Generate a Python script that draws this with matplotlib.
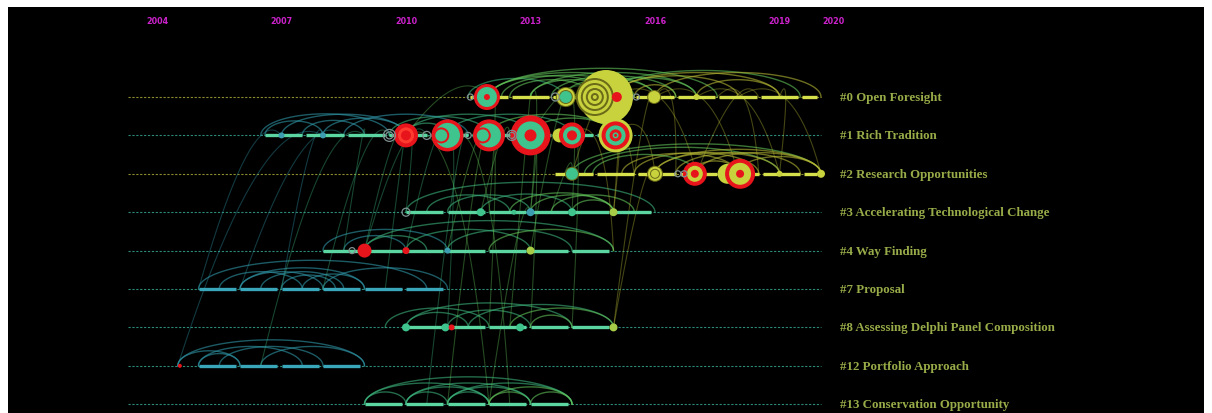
import matplotlib.pyplot as plt
import numpy as np

# CiteSpace-style timeline view of co-citation clusters

# ---- data ----
tick_years = ['2004', '2007', '2010', '2013', '2016', '2019', '2020']
tick_pos = [2004, 2007, 2010, 2013, 2016, 2019, 2020.3]

cluster_labels = ['#0 Open Foresight', '#1 Rich Tradition', '#2 Research Opportunities',
                  '#3 Accelerating Technological Change', '#4 Way Finding', '#7 Proposal',
                  '#8 Assessing Delphi Panel Composition', '#12 Portfolio Approach',
                  '#13 Conservation Opportunity']
row_start = [2011.55, 2006.6, 2013.6, 2010.0, 2008.0, 2005.0, 2010.0, 2005.0, 2009.0]
row_end = [2020.0, 2015.3, 2020.0, 2016.0, 2015.0, 2011.0, 2015.0, 2009.0, 2014.0]
row_tone = ['yellow', 'green', 'yellow', 'green', 'green', 'blue', 'green', 'blue', 'green']

# nodes: (row, year, [(ring radius, colour key), ...] outer -> inner)
nodes = [
    (0, 2011.55, [(3, 'ring')]),
    (0, 2011.95, [(13, 'R'), (10, 'G'), (3, 'R')]),
    (0, 2013.6, [(4, 'ring')]),
    (0, 2013.85, [(10, 'O'), (9, 'Y'), (7, 'O'), (6, 'G'), (3, 'G')]),
    (0, 2014.82, [(27, 'Y')]),
    (0, 2014.55, [(19, 'O'), (17, 'Y'), (14, 'O'), (12, 'Y'), (9, 'O'), (7, 'Y'), (4, 'O'), (2, 'Y')]),
    (0, 2015.08, [(5, 'R')]),
    (0, 2015.55, [(3, 'ring')]),
    (0, 2015.98, [(7, 'O'), (6, 'Y')]),
    (0, 2017.0, [(3, 'Y')]),
    (1, 2007.0, [(3, 'B')]),
    (1, 2008.0, [(3, 'B')]),
    (1, 2009.6, [(6, 'ring'), (3.5, 'ring')]),
    (1, 2010.0, [(12, 'R'), (8, 'R2'), (5, 'R')]),
    (1, 2010.5, [(4, 'ring')]),
    (1, 2011.0, [(16, 'R'), (12.5, 'G')]),
    (1, 2010.85, [(8, 'R'), (6, 'G')]),
    (1, 2011.5, [(3, 'ring')]),
    (1, 2012.0, [(16, 'R'), (12, 'G')]),
    (1, 2011.85, [(8, 'R'), (6, 'G')]),
    (1, 2012.55, [(5, 'ring'), (3, 'ring')]),
    (1, 2013.0, [(20, 'R'), (14, 'G'), (6, 'R')]),
    (1, 2013.7, [(7, 'Y')]),
    (1, 2014.0, [(13, 'R'), (9, 'G'), (5, 'R'), (2, 'R')]),
    (1, 2015.05, [(17, 'Y'), (14, 'R'), (10, 'G'), (6, 'R'), (3, 'G'), (1.5, 'R')]),
    (2, 2014.0, [(7, 'O'), (6, 'G')]),
    (2, 2016.0, [(8, 'O'), (7, 'Y'), (5, 'O'), (4, 'Y')]),
    (2, 2016.55, [(3, 'ring')]),
    (2, 2016.7, [(3, 'ring')]),
    (2, 2016.96, [(12, 'R'), (8, 'Y'), (4, 'R')]),
    (2, 2017.75, [(10, 'Y')]),
    (2, 2018.05, [(15, 'R'), (11, 'Y'), (4, 'R')]),
    (2, 2019.0, [(3, 'Y')]),
    (2, 2020.0, [(4, 'Y')]),
    (3, 2010.0, [(4, 'ring')]),
    (3, 2011.8, [(4, 'G')]),
    (3, 2012.6, [(2.5, 'G')]),
    (3, 2013.0, [(4, 'B')]),
    (3, 2014.0, [(4, 'G')]),
    (3, 2015.0, [(4, 'L')]),
    (4, 2008.7, [(3, 'ring')]),
    (4, 2009.0, [(7, 'R')]),
    (4, 2010.0, [(3.5, 'R')]),
    (4, 2011.0, [(3, 'B')]),
    (4, 2013.0, [(4, 'L')]),
    (6, 2010.0, [(4, 'G')]),
    (6, 2010.95, [(4, 'G')]),
    (6, 2011.1, [(3, 'R')]),
    (6, 2012.75, [(4, 'G')]),
    (6, 2015.0, [(4, 'L')]),
    (7, 2004.55, [(2, 'R')]),
]

# arcs inside a cluster: (row, year from, year to)
arcs = [
    (0, 2011.5, 2013.8), (0, 2012.0, 2015.0), (0, 2013.0, 2015.0), (0, 2012.0, 2016.0),
    (0, 2012.5, 2014.5), (0, 2013.0, 2017.0), (0, 2013.8, 2016.0), (0, 2012.0, 2017.5),
    (0, 2014.5, 2017.0), (0, 2015.0, 2018.0), (0, 2015.0, 2019.0), (0, 2014.8, 2019.5),
    (0, 2016.0, 2020.0), (0, 2017.0, 2019.0), (0, 2015.5, 2016.5), (0, 2012.3, 2015.5),
    (0, 2013.5, 2016.5),
    (1, 2006.5, 2009.6), (1, 2007.0, 2010.0), (1, 2008.0, 2010.0), (1, 2006.6, 2008.0),
    (1, 2007.5, 2009.0), (1, 2009.6, 2012.0), (1, 2010.0, 2013.0), (1, 2011.0, 2014.0),
    (1, 2012.0, 2015.0), (1, 2013.0, 2015.0), (1, 2010.0, 2011.0), (1, 2008.5, 2011.5),
    (2, 2014.0, 2020.0), (2, 2014.3, 2019.0), (2, 2015.2, 2018.0), (2, 2016.0, 2019.0),
    (2, 2016.0, 2020.0), (2, 2017.0, 2020.0), (2, 2015.5, 2018.5), (2, 2016.5, 2019.5),
    (2, 2018.0, 2020.0), (2, 2016.9, 2018.0), (2, 2014.5, 2017.0),
    (3, 2010.0, 2016.0), (3, 2011.0, 2013.0), (3, 2011.8, 2014.0), (3, 2012.5, 2015.0),
    (3, 2013.0, 2015.0), (3, 2010.5, 2012.5), (3, 2013.5, 2015.5), (3, 2014.0, 2015.0),
    (4, 2008.0, 2011.0), (4, 2008.5, 2010.0), (4, 2009.0, 2010.5), (4, 2009.0, 2015.0),
    (4, 2010.0, 2013.0), (4, 2011.0, 2014.0), (4, 2012.0, 2015.0),
    (5, 2005.0, 2010.5), (5, 2006.0, 2009.0), (5, 2006.5, 2008.5), (5, 2007.0, 2008.3),
    (5, 2006.0, 2008.0), (5, 2007.5, 2009.0), (5, 2005.5, 2007.5), (5, 2008.0, 2011.0),
    (6, 2009.5, 2012.0), (6, 2010.0, 2014.0), (6, 2011.0, 2013.0), (6, 2011.5, 2015.0),
    (6, 2012.5, 2015.0), (6, 2013.0, 2014.0), (6, 2010.0, 2011.5),
    (7, 2004.5, 2009.0), (7, 2005.0, 2007.5), (7, 2005.5, 2008.0), (7, 2005.0, 2006.0),
    (7, 2006.5, 2009.0), (7, 2004.5, 2006.0),
    (8, 2009.0, 2014.0), (8, 2009.0, 2012.0), (8, 2010.0, 2013.0), (8, 2011.0, 2014.0),
    (8, 2009.0, 2010.0), (8, 2010.0, 2011.0), (8, 2011.0, 2012.0), (8, 2012.0, 2013.0),
    (8, 2013.0, 2014.0), (8, 2010.0, 2012.0), (8, 2011.0, 2013.0), (8, 2012.0, 2014.0),
]

# links between clusters: (row a, year a, row b, year b)
links = [
    (1, 2010.0, 8, 2012.0), (1, 2011.0, 8, 2012.5), (1, 2012.0, 6, 2012.0), (1, 2011.0, 4, 2010.0),
    (1, 2010.0, 3, 2010.0), (1, 2013.0, 3, 2013.0), (1, 2012.0, 4, 2011.0), (1, 2014.0, 6, 2014.0),
    (0, 2012.0, 3, 2012.0), (0, 2013.8, 3, 2014.0), (0, 2015.0, 2, 2014.0), (0, 2015.0, 2, 2017.0),
    (0, 2016.0, 2, 2018.0), (0, 2017.0, 2, 2019.0), (0, 2018.0, 2, 2020.0), (0, 2019.0, 2, 2019.0),
    (0, 2015.0, 3, 2015.0), (0, 2016.0, 6, 2015.0), (1, 2015.0, 2, 2016.0), (1, 2008.0, 7, 2004.5),
    (1, 2007.0, 5, 2005.0), (1, 2008.5, 5, 2006.0), (1, 2009.0, 7, 2006.5), (1, 2009.6, 5, 2008.0),
    (4, 2009.0, 1, 2010.0), (1, 2012.0, 8, 2011.0), (3, 2013.0, 8, 2012.0), (1, 2011.0, 6, 2011.0),
    (1, 2013.0, 6, 2013.0), (0, 2014.0, 4, 2013.0), (0, 2013.0, 6, 2012.5), (2, 2016.0, 6, 2015.0),
    (1, 2014.0, 4, 2015.0), (0, 2012.0, 1, 2010.0), (0, 2014.5, 1, 2013.0), (0, 2016.0, 2, 2016.5),
    (0, 2017.5, 2, 2018.5), (0, 2014.0, 2, 2015.5), (1, 2010.5, 4, 2009.0), (1, 2009.0, 4, 2008.5),
    (1, 2012.5, 3, 2011.8), (1, 2011.5, 8, 2010.5), (0, 2013.0, 3, 2013.0), (0, 2018.5, 2, 2017.0),
    (1, 2010.0, 5, 2009.5), (1, 2008.0, 5, 2007.0), (1, 2015.0, 3, 2015.0), (2, 2014.0, 3, 2013.5),
]

# ---- styles ----
PX_YEAR = 41.5
PX_ROW = 38.4
BG = '#000000'
palette = {'R': '#e8141c', 'R2': '#ff3b2f', 'G': '#3ec48c', 'Y': '#c8d23c', 'O': '#6a6a18',
           'B': '#3c9cb0', 'L': '#a6cc48'}
tone_line = {'yellow': '#d6e04a', 'green': '#5cd6a0', 'blue': '#3aa6ba'}
tone_dots = {'yellow': '#8c8c2e', 'green': '#2c8a78', 'blue': '#2c8a78'}
label_color = '#97ab48'


def link_color(year):
    if year < 2009:
        return '#2f97a8'
    if year < 2012:
        return '#3cb47c'
    if year < 2015:
        return '#62c45a'
    return '#b6b834'


def pt_size(r):
    return (2 * r * 0.72) ** 2


fig = plt.figure(figsize=(12.12, 4.14), dpi=100, facecolor='white')
ax = fig.add_axes([8 / 1212, 0, 1196 / 1212, 406 / 414])
ax.set_facecolor(BG)
ax.set_xlim(2004 - 149 / PX_YEAR, 2004 + 1047 / PX_YEAR)
ax.set_ylim(316 / PX_ROW, -90 / PX_ROW)
ax.set_xticks([])
ax.set_yticks([])
for sp in ax.spines.values():
    sp.set_visible(False)

n_rows = len(cluster_labels)

# thin dotted baselines
for r in range(n_rows):
    ax.plot([2003.3, 2020.0], [r, r], color=tone_dots[row_tone[r]], lw=0.8,
            ls=(0, (2, 1.5)), zorder=1)

# arcs inside clusters
t = np.linspace(0, np.pi, 60)
for r, a, b in arcs:
    w_px = (b - a) * PX_YEAR
    h = 1.9 * np.sqrt(w_px) / PX_ROW
    xm, hw = (a + b) / 2, (b - a) / 2
    ax.plot(xm + hw * np.cos(t), r - h * np.sin(t), color=link_color(a),
            lw=1.0, alpha=0.6, zorder=2)

# links between clusters
s = np.linspace(0, 1, 60)[:, None]
for ra, ya, rb, yb in links:
    p0 = np.array([ya, ra])
    p2 = np.array([yb, rb])
    top = min(ra, rb)
    p1 = np.array([(ya + yb) / 2 + 0.3, top - 0.9])
    pts = (1 - s) ** 2 * p0 + 2 * (1 - s) * s * p1 + s ** 2 * p2
    ax.plot(pts[:, 0], pts[:, 1], color=link_color(max(ya, yb)), lw=0.8,
            alpha=0.38, zorder=2)

# thick timeline segments (one per year, small gaps)
for r in range(n_rows):
    x = row_start[r]
    while x < row_end[r] - 0.05:
        x2 = min(x + 1.0, row_end[r])
        ax.plot([x, x2 - 0.1], [r, r], color=tone_line[row_tone[r]], lw=2.4,
                solid_capstyle='butt', zorder=3)
        x = x2

# nodes with citation tree rings
for r, yr, rings in nodes:
    for rad, key in rings:
        if key == 'ring':
            ax.scatter([yr], [r], s=pt_size(rad), facecolors='none',
                       edgecolors='#7f8f90', linewidths=0.9, zorder=5)
        else:
            ax.scatter([yr], [r], s=pt_size(rad), color=palette[key],
                       edgecolors='none', zorder=4)

# year labels
for pos, lab in zip(tick_pos, tick_years):
    ax.text(pos, -76 / PX_ROW, lab, color='#cc22cc', fontsize=5.8, fontweight='bold',
            ha='center', va='center', family='DejaVu Sans')

# cluster labels
for r, lab in enumerate(cluster_labels):
    ax.text(2020.45, r, lab, color=label_color, fontsize=9.3, fontweight='bold',
            ha='left', va='center', family='Liberation Serif')

fig.savefig('out.png', dpi=100, facecolor='white')
